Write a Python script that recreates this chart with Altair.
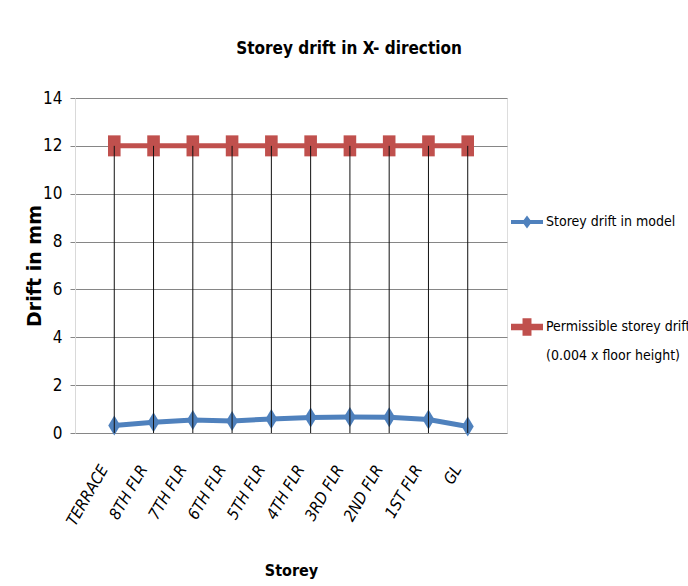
import altair as alt
import pandas as pd

# Storeys from top to bottom and drift values (mm)
storeys = ["TERRACE", "8TH FLR", "7TH FLR", "6TH FLR", "5TH FLR",
           "4TH FLR", "3RD FLR", "2ND FLR", "1ST FLR", "GL"]
model_drift = [0.31, 0.45, 0.54, 0.50, 0.59, 0.65, 0.67, 0.66, 0.56, 0.27]
permissible_drift = [12, 12, 12, 12, 12, 12, 12, 12, 12, 12]

model_name = "Storey drift in model"
perm_name = "Permissible storey drift (0.004 x floor height)"

blue = "#4F81BD"
red = "#C0504D"
narrow = "DejaVu Sans Condensed"

model_df = pd.DataFrame({"storey": storeys, "drift": model_drift, "series": model_name})
perm_df = pd.DataFrame({"storey": storeys, "drift": permissible_drift, "series": perm_name})
drop_df = pd.DataFrame({"storey": storeys, "top": permissible_drift, "zero": [0] * len(storeys)})

x_enc = alt.X(
    "storey:N", sort=storeys, title="Storey",
    scale=alt.Scale(paddingOuter=0.5, paddingInner=0),
    axis=alt.Axis(
        labelAngle=-60, labelAlign="right", labelBaseline="middle",
        labelFont=narrow, labelFontStyle="italic", labelFontSize=16, labelColor="#000",
        labelPadding=33, labelOffset=-10, ticks=False, tickSize=0, domain=False, grid=False,
        titleFont=narrow, titleFontWeight="bold", titleFontSize=16, titleColor="#000",
        titleY=142, titleBaseline="alphabetic",
    ),
)
y_enc = alt.Y(
    "drift:Q", title="Drift in mm",
    scale=alt.Scale(domain=[0, 14], nice=False),
    axis=alt.Axis(
        values=[0, 2, 4, 6, 8, 10, 12, 14], grid=True, gridColor="#868686",
        tickColor="#868686", tickSize=5, domainColor="#D9D9D9",
        labelFont=narrow, labelFontSize=17, labelColor="#000", labelPadding=8,
        titleFont="DejaVu Sans", titleFontWeight="bold", titleFontSize=19, titleColor="#000",
        titleX=-35, titleBaseline="alphabetic",
    ),
)

# Symbol paths live in the -1..1 box; legend symbols are a line segment with the marker on top
model_symbol = "M-1,-0.12H1V0.12H-1Z M0,-0.4L0.3,0L0,0.4L-0.3,0Z"
perm_symbol = "M-1,-0.2H1V0.2H-1Z M-0.28,-0.54H0.28V0.54H-0.28Z"
diamond = "M0,-1L0.6,0L0,1L-0.6,0Z"
tall_square = "M-0.6,-1H0.6V1H-0.6Z"


def legend_for(symbol, lx, ly):
    return alt.Legend(
        title=None, orient="none", legendX=lx, legendY=ly,
        symbolType=symbol, symbolSize=1024, symbolStrokeWidth=0,
        labelFont=narrow, labelFontSize=14, labelColor="#000", labelLimit=300,
        # put the bracketed part on a second line
        labelExpr="split(replace(datum.label, ' (', '|('), '|')",
        labelOffset=3,
    )


def series_layers(df, name, color, marker, size, legend):
    col_line = alt.Color("series:N", scale=alt.Scale(domain=[name], range=[color]), legend=None)
    col_pt = alt.Color("series:N", scale=alt.Scale(domain=[name], range=[color]), legend=legend)
    line = alt.Chart(df).mark_line(strokeWidth=5).encode(x=x_enc, y=y_enc, color=col_line)
    pts = alt.Chart(df).mark_point(shape=marker, size=size, filled=True, opacity=1).encode(
        x=x_enc, y=y_enc, color=col_pt)
    return [line, pts]


drops = alt.Chart(drop_df).mark_rule(color="#111", strokeWidth=1).encode(
    x=alt.X("storey:N", sort=storeys), y=alt.Y("zero:Q"), y2="top:Q")

layers = (
    series_layers(perm_df, perm_name, red, tall_square, 441,
                  legend_for(perm_symbol, 436, 213))
    + series_layers(model_df, model_name, blue, diamond, 400,
                    legend_for(model_symbol, 436, 108))
    + [drops]
)

chart = (
    alt.layer(*layers)
    .resolve_scale(color="independent")
    .properties(
        width=432, height=335,
        autosize=alt.AutoSizeParams(type="none"),
        padding={"left": 75, "top": 98, "right": 181, "bottom": 153},
        title=alt.TitleParams(
            "Storey drift in X- direction", font=narrow, fontWeight="bold",
            fontSize=17, color="#000", offset=31, dx=58, anchor="middle",
        ),
    )
    .configure_view(stroke=None)
    .configure(background="white", style={"guide-label": {"lineHeight": 29}})
)

chart.save("out.html", embed_options={"renderer": "svg", "actions": False})
